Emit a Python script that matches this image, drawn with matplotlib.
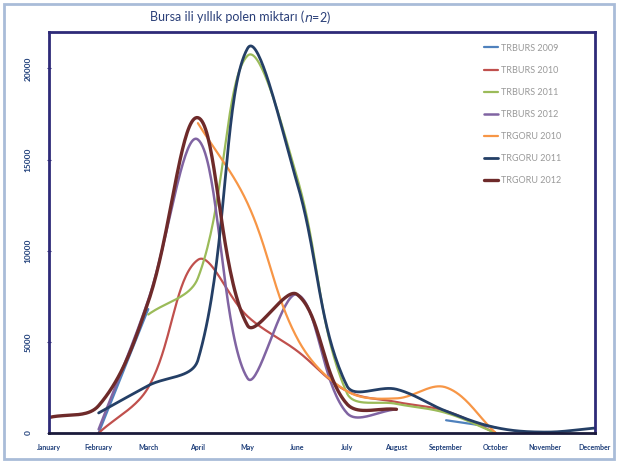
import numpy as np
import matplotlib.pyplot as plt
from matplotlib.patches import Rectangle

plt.rcParams['font.family'] = ['Lato', 'DejaVu Sans']

months = ['January', 'February', 'March', 'April', 'May', 'June', 'July',
          'August', 'September', 'October', 'November', 'December']
nan = np.nan

# monthly pollen counts per station/year
trburs_2009 = [nan, 0, 6800, nan, nan, nan, nan, nan, 700, 300, nan, nan]
trburs_2010 = [nan, 0, 2500, 9500, 6400, 4500, 2300, 1700, 1200, 0, nan, nan]
trburs_2011 = [nan, nan, 6500, 8500, 20700, 14000, 2200, 1600, 1100, 0, nan, nan]
trburs_2012 = [nan, 200, 7300, 16100, 3000, 7600, 1100, 1300, nan, nan, nan, nan]
trgoru_2010 = [nan, nan, nan, 17000, 12600, 5200, 2300, 1900, 2500, 0, nan, nan]
trgoru_2011 = [nan, 1100, 2600, 4000, 21100, 13700, 2600, 2400, 1200, 300, 50, 270]
trgoru_2012 = [850, 1500, 7200, 17300, 5900, 7600, 1600, 1300, nan, nan, nan, nan]

series = [
    ('TRBURS 2009', trburs_2009, '#4F81BD', 1.6),
    ('TRBURS 2010', trburs_2010, '#C0504D', 1.6),
    ('TRBURS 2011', trburs_2011, '#9BBB59', 1.6),
    ('TRBURS 2012', trburs_2012, '#8064A2', 1.8),
    ('TRGORU 2010', trgoru_2010, '#F79646', 1.6),
    ('TRGORU 2011', trgoru_2011, '#243F66', 2.0),
    ('TRGORU 2012', trgoru_2012, '#6E2A2A', 2.4),
]

YMAX = 22000
# screen aspect (pixels per month / pixels per unit) used for smoothing
SX, SY = 49.6, 401 / YMAX


def smooth(vals, steps=40, tension=0.36):
    """Bezier smoothing with chord-length tangents, gaps kept."""
    xs, ys = [], []
    vals = np.asarray(vals, dtype=float)
    idx = np.arange(len(vals))
    ok = ~np.isnan(vals)
    runs = np.split(idx[ok], np.where(np.diff(idx[ok]) != 1)[0] + 1)
    for run in runs:
        if len(run) < 2:
            continue
        P = np.column_stack([idx[run] * SX, vals[run] * SY])
        n = len(P)
        cin = P.copy()
        cout = P.copy()
        for i in range(n):
            a = P[max(i - 1, 0)]
            b = P[min(i + 1, n - 1)]
            d = b - a
            la = np.hypot(*(P[i] - a))
            lb = np.hypot(*(b - P[i]))
            s = la + lb
            if s == 0:
                continue
            cin[i] = P[i] - d * tension * la / s
            cout[i] = P[i] + d * tension * lb / s
        t = np.linspace(0, 1, steps)[:, None]
        for i in range(n - 1):
            seg = ((1 - t) ** 3 * P[i] + 3 * (1 - t) ** 2 * t * cout[i]
                   + 3 * (1 - t) * t ** 2 * cin[i + 1] + t ** 3 * P[i + 1])
            xs.extend(seg[:, 0] / SX)
            ys.extend(seg[:, 1] / SY)
        xs.append(nan)
        ys.append(nan)
    return np.array(xs), np.array(ys)


fig = plt.figure(figsize=(6.18, 4.63), dpi=100)
ax = fig.add_axes([49 / 618, 30 / 463, 546 / 618, 401 / 463])

for label, vals, color, lw in series:
    sx, sy = smooth(vals)
    ax.plot(sx, sy, color=color, lw=lw, label=label, solid_capstyle='round')

ax.set_xlim(0, len(months) - 1)
ax.set_ylim(0, YMAX)
ax.set_xticks(np.arange(len(months)))
ax.set_xticklabels(months)
ax.set_yticks([0, 5000, 10000, 15000, 20000])
ax.tick_params(axis='x', labelsize=5, colors='#1F3F7A', length=0, pad=8)
ax.tick_params(axis='y', labelsize=6, colors='#1F3F7A', length=3,
               direction='inout', pad=11)
for t in ax.get_yticklabels():
    t.set_rotation(90)
    t.set_va('center')
    t.set_fontweight('bold')
for t in ax.get_xticklabels():
    t.set_fontweight('bold')
ax.tick_params(axis='y', color='#2E2A78')

for side in ax.spines.values():
    side.set_color('#2E2A78')
    side.set_linewidth(2)
ax.spines['bottom'].set_color('#1A1A3A')

leg = ax.legend(loc='upper right', frameon=False, fontsize=6.5,
                handlelength=1.6, labelspacing=1.45, handletextpad=0.3,
                bbox_to_anchor=(0.945, 0.98), borderaxespad=0)
for t in leg.get_texts():
    t.set_color('#999999')

fig.text(304 / 618, 1 - 17 / 463, 'Bursa ili yıllık polen miktarı (',
         ha='right', va='center', fontsize=9, color='#2A3F78')
fig.text(304 / 618, 1 - 17 / 463, '$n$=2)', ha='left', va='center',
         fontsize=9, color='#2A3F78')

# chart area frame
fig.patches.append(Rectangle((4 / 618, 4 / 463), 610 / 618, 455 / 463,
                             transform=fig.transFigure, fill=False,
                             edgecolor='#A9BCD8', lw=2))

fig.savefig('out.png', dpi=100)
